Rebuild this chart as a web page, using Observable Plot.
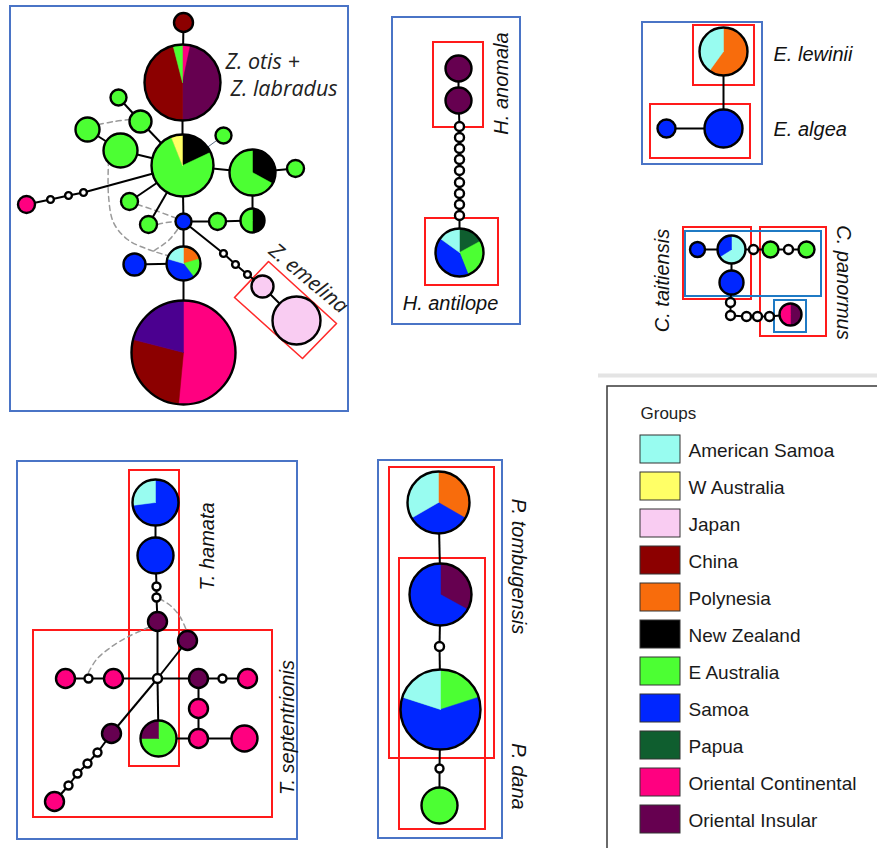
<!DOCTYPE html>
<html>
<head>
<meta charset="utf-8">
<script src="https://cdn.jsdelivr.net/npm/d3@7"></script>
<script src="https://cdn.jsdelivr.net/npm/@observablehq/plot@0.6"></script>
<style>
  html, body { margin: 0; padding: 0; background: #fff; }
  #chart svg { display: block; }
</style>
</head>
<body>
<div id="chart"></div>
<script>
// ---- Populations (legend order) and their colours ----
const groups = ["American Samoa", "W Australia", "Japan", "China", "Polynesia", "New Zealand",
  "E Australia", "Samoa", "Papua", "Oriental Continental", "Oriental Insular"];
const groupColors = ["#98fcf0", "#ffff66", "#f9ccf2", "#8c0000", "#f86c0c", "#000000",
  "#4cff33", "#0026ff", "#0f5e2f", "#ff0080", "#660050"];
// population sampled outside the legend groups
const otherGroup = "Other";
const otherColor = "#4b0090";

// ---- Haplotype networks ----
// Each haplotype: layout centre (x, y), node radius r, and shares of each population
// listed clockwise from 12 o'clock. mix = null marks an unsampled intermediate (mutation step).
const zosteropsNodes = [
  {id: "z1", x: 183, y: 22, r: 9.5, mix: [["China", 1]]},
  {id: "z2", x: 182, y: 82, r: 38, mix: [["Oriental Continental", 0.033], ["Oriental Insular", 0.467], ["China", 0.46], ["E Australia", 0.04]]},
  {id: "z3", x: 182, y: 165, r: 31, mix: [["New Zealand", 0.18], ["E Australia", 0.76], ["W Australia", 0.06]]},
  {id: "z4", x: 252, y: 172, r: 23, mix: [["New Zealand", 0.33], ["E Australia", 0.67]]},
  {id: "z5", x: 295, y: 168, r: 8.5, mix: [["E Australia", 1]]},
  {id: "z6", x: 223, y: 135, r: 8, mix: [["E Australia", 1]]},
  {id: "z7", x: 140, y: 121, r: 11, mix: [["E Australia", 1]]},
  {id: "z8", x: 118, y: 97, r: 8, mix: [["E Australia", 1]]},
  {id: "z9", x: 120, y: 150, r: 17, mix: [["E Australia", 1]]},
  {id: "z10", x: 87, y: 129, r: 12, mix: [["E Australia", 1]]},
  {id: "z11", x: 26, y: 204, r: 8.5, mix: [["Oriental Continental", 1]]},
  {id: "zm1", x: 83, y: 192, r: 3.4, mix: null},
  {id: "zm2", x: 68, y: 195, r: 3.4, mix: null},
  {id: "zm3", x: 50, y: 199, r: 3.4, mix: null},
  {id: "z12", x: 129, y: 201, r: 8.5, mix: [["E Australia", 1]]},
  {id: "z13", x: 148, y: 224, r: 8.5, mix: [["E Australia", 1]]},
  {id: "z14", x: 183, y: 221, r: 8, mix: [["Samoa", 1]]},
  {id: "z15", x: 217, y: 221, r: 8.5, mix: [["E Australia", 1]]},
  {id: "z16", x: 252, y: 220, r: 12, mix: [["New Zealand", 0.5], ["E Australia", 0.5]]},
  {id: "z17", x: 183, y: 263, r: 17, mix: [["Polynesia", 0.205], ["E Australia", 0.19], ["Samoa", 0.4], ["American Samoa", 0.205]]},
  {id: "z18", x: 134, y: 264, r: 11, mix: [["Samoa", 1]]},
  {id: "z19", x: 183, y: 352, r: 52, mix: [["Oriental Continental", 0.515], ["China", 0.275], [otherGroup, 0.21]]},
  {id: "zm4", x: 223, y: 253, r: 3.4, mix: null},
  {id: "zm5", x: 235, y: 264, r: 3.4, mix: null},
  {id: "zm6", x: 247, y: 274, r: 3.4, mix: null},
  {id: "z20", x: 262, y: 286, r: 11, mix: [["Japan", 1]]},
  {id: "z21", x: 296, y: 320, r: 24, mix: [["Japan", 1]]}
];
const zosteropsEdges = [
  ["z1", "z2"], ["z2", "z3"], ["z3", "z4"], ["z4", "z5"], ["z3", "z7"], ["z7", "z8"],
  ["z3", "z9"], ["z9", "z10"], ["z3", "zm1"], ["zm1", "zm2"], ["zm2", "zm3"], ["zm3", "z11"],
  ["z3", "z12"], ["z3", "z13"], ["z3", "z14"], ["z4", "z16"], ["z14", "z15"], ["z15", "z16"],
  ["z14", "z17"], ["z17", "z18"], ["z17", "z19"], ["z14", "zm4"], ["zm4", "zm5"], ["zm5", "zm6"],
  ["zm6", "z20"], ["z20", "z21"]
];
const zosteropsFaintEdges = [["z3", "z6"]];

const heteroNodes = [
  {id: "h1", x: 458, y: 68, r: 13, mix: [["Oriental Insular", 1]]},
  {id: "h2", x: 458, y: 100, r: 13, mix: [["Oriental Insular", 1]]},
  {id: "hm1", x: 459, y: 126, r: 4.5, mix: null},
  {id: "hm2", x: 459, y: 137, r: 4.5, mix: null},
  {id: "hm3", x: 459, y: 148, r: 4.5, mix: null},
  {id: "hm4", x: 459, y: 159, r: 4.5, mix: null},
  {id: "hm5", x: 459, y: 170, r: 4.5, mix: null},
  {id: "hm6", x: 459, y: 182, r: 4.5, mix: null},
  {id: "hm7", x: 459, y: 193, r: 4.5, mix: null},
  {id: "hm8", x: 459, y: 204, r: 4.5, mix: null},
  {id: "hm9", x: 459, y: 215, r: 4.5, mix: null},
  {id: "h3", x: 459, y: 252, r: 24, mix: [["Papua", 0.17], ["E Australia", 0.27], ["Samoa", 0.41], ["American Samoa", 0.15]]}
];
const heteroEdges = [
  ["h1", "h2"], ["h2", "hm1"], ["hm1", "hm2"], ["hm2", "hm3"], ["hm3", "hm4"], ["hm4", "hm5"],
  ["hm5", "hm6"], ["hm6", "hm7"], ["hm7", "hm8"], ["hm8", "hm9"], ["hm9", "h3"]
];

const eclipesNodes = [
  {id: "e1", x: 723, y: 51, r: 24, mix: [["Polynesia", 0.6], ["American Samoa", 0.4]]},
  {id: "e2", x: 723, y: 128, r: 19, mix: [["Samoa", 1]]},
  {id: "e3", x: 666, y: 128, r: 9, mix: [["Samoa", 1]]}
];
const eclipesEdges = [["e1", "e2"], ["e2", "e3"]];

const ctenoNodes = [
  {id: "c1", x: 697, y: 249, r: 7.5, mix: [["Samoa", 1]]},
  {id: "c2", x: 731, y: 249, r: 14, mix: [["American Samoa", 0.66], ["Samoa", 0.34]]},
  {id: "c3", x: 731, y: 282, r: 12, mix: [["Samoa", 1]]},
  {id: "cm1", x: 753, y: 249, r: 4.5, mix: null},
  {id: "c4", x: 770, y: 249, r: 8, mix: [["E Australia", 1]]},
  {id: "cm2", x: 788, y: 249, r: 4.5, mix: null},
  {id: "c5", x: 806, y: 249, r: 8, mix: [["E Australia", 1]]},
  {id: "cm3", x: 730, y: 302, r: 4.5, mix: null},
  {id: "cm4", x: 730, y: 315, r: 4.5, mix: null},
  {id: "cm5", x: 746, y: 316, r: 4.5, mix: null},
  {id: "cm6", x: 757, y: 316, r: 4.5, mix: null},
  {id: "cm7", x: 769, y: 316, r: 4.5, mix: null},
  {id: "c6", x: 790, y: 314, r: 11, mix: [["Oriental Insular", 0.5], ["Oriental Continental", 0.5]]}
];
const ctenoEdges = [
  ["c1", "c2"], ["c2", "c3"], ["c2", "cm1"], ["cm1", "c4"], ["c4", "cm2"], ["cm2", "c5"],
  ["c3", "cm3"], ["cm3", "cm4"], ["cm4", "cm5"], ["cm5", "cm6"], ["cm6", "cm7"], ["cm7", "c6"]
];

const tylosNodes = [
  {id: "t1", x: 155, y: 502, r: 23, mix: [["Samoa", 0.73], ["American Samoa", 0.27]]},
  {id: "t2", x: 155, y: 555, r: 18, mix: [["Samoa", 1]]},
  {id: "tm1", x: 156, y: 586, r: 4, mix: null},
  {id: "tm2", x: 156, y: 597, r: 4, mix: null},
  {id: "t3", x: 157, y: 621, r: 9.5, mix: [["Oriental Insular", 1]]},
  {id: "tm0", x: 157, y: 678, r: 4.5, mix: null},
  {id: "t4", x: 187, y: 640, r: 9.5, mix: [["Oriental Insular", 1]]},
  {id: "t5", x: 65, y: 678, r: 9.5, mix: [["Oriental Continental", 1]]},
  {id: "tm3", x: 88, y: 678, r: 4, mix: null},
  {id: "t6", x: 113, y: 678, r: 9.5, mix: [["Oriental Continental", 1]]},
  {id: "t7", x: 198, y: 678, r: 9.5, mix: [["Oriental Insular", 1]]},
  {id: "tm4", x: 222, y: 678, r: 4, mix: null},
  {id: "t8", x: 247, y: 678, r: 9.5, mix: [["Oriental Continental", 1]]},
  {id: "t9", x: 198, y: 708, r: 9.5, mix: [["Oriental Continental", 1]]},
  {id: "t10", x: 198, y: 738, r: 9.5, mix: [["Oriental Continental", 1]]},
  {id: "t11", x: 244, y: 738, r: 13, mix: [["Oriental Continental", 1]]},
  {id: "t12", x: 158, y: 738, r: 18, mix: [["E Australia", 0.75], ["Oriental Insular", 0.25]]},
  {id: "t13", x: 111, y: 733, r: 9.5, mix: [["Oriental Insular", 1]]},
  {id: "tm5", x: 97, y: 752, r: 4, mix: null},
  {id: "tm6", x: 87, y: 763, r: 4, mix: null},
  {id: "tm7", x: 77, y: 773, r: 4, mix: null},
  {id: "tm8", x: 68, y: 785, r: 4, mix: null},
  {id: "t14", x: 54, y: 801, r: 9.5, mix: [["Oriental Continental", 1]]}
];
const tylosEdges = [
  ["t1", "t2"], ["t2", "tm1"], ["tm1", "tm2"], ["tm2", "t3"], ["t3", "tm0"], ["tm0", "t4"],
  ["tm0", "t6"], ["t6", "tm3"], ["tm3", "t5"], ["tm0", "t7"], ["t7", "tm4"], ["tm4", "t8"],
  ["t7", "t9"], ["t9", "t10"], ["t10", "t11"], ["tm0", "t12"], ["t12", "t10"], ["tm0", "t13"],
  ["t13", "tm5"], ["tm5", "tm6"], ["tm6", "tm7"], ["tm7", "tm8"], ["tm8", "t14"]
];

const platyNodes = [
  {id: "p1", x: 438, y: 502, r: 31, mix: [["Polynesia", 1 / 3], ["Samoa", 1 / 3], ["American Samoa", 1 / 3]]},
  {id: "p2", x: 440, y: 594, r: 31, mix: [["Oriental Insular", 0.33], ["Samoa", 0.67]]},
  {id: "pm1", x: 439, y: 646, r: 4.5, mix: null},
  {id: "p3", x: 440, y: 709, r: 40, mix: [["E Australia", 0.2], ["Samoa", 0.6], ["American Samoa", 0.2]]},
  {id: "pm2", x: 439, y: 768, r: 4, mix: null},
  {id: "p4", x: 439, y: 805, r: 18, mix: [["E Australia", 1]]}
];
const platyEdges = [["p1", "p2"], ["p2", "pm1"], ["pm1", "p3"], ["p3", "pm2"], ["pm2", "p4"]];

// alternative (equally parsimonious) connections, drawn dashed
const alternativeLinks = [
  {id: "a1", pts: [[98, 124], [114, 121], [130, 119]]},
  {id: "a2", pts: [[108, 160], [108, 195], [113, 222], [127, 239], [148, 249], [167, 255]]},
  {id: "a3", pts: [[137, 204], [155, 210], [174, 217]]},
  {id: "a4", pts: [[157, 224], [166, 222], [175, 221]]},
  {id: "a5", pts: [[177, 229], [169, 239], [160, 246], [151, 252]]},
  {id: "a6", pts: [[88, 672], [96, 659], [110, 647], [128, 636], [148, 627]]},
  {id: "a7", pts: [[159, 598], [171, 606], [180, 617], [186, 630]]}
];

// ---- Frames: genus panels, species groupings ----
const genusFrames = [
  {x1: 10, y1: 6, x2: 348, y2: 411},
  {x1: 392, y1: 17, x2: 520, y2: 324},
  {x1: 642, y1: 22, x2: 762, y2: 164},
  {x1: 17, y1: 461, x2: 297, y2: 839},
  {x1: 378, y1: 460, x2: 502, y2: 838}
];
const speciesFrames = [
  {x1: 433, y1: 42, x2: 483, y2: 127},
  {x1: 425, y1: 218, x2: 498, y2: 285},
  {x1: 693, y1: 25, x2: 754, y2: 85},
  {x1: 650, y1: 104, x2: 750, y2: 158},
  {x1: 683, y1: 227, x2: 751, y2: 299},
  {x1: 760, y1: 227, x2: 826, y2: 336},
  {x1: 129, y1: 470, x2: 179, y2: 766},
  {x1: 33, y1: 630, x2: 272, y2: 817},
  {x1: 389, y1: 467, x2: 494, y2: 758},
  {x1: 399, y1: 558, x2: 485, y2: 829}
];
const cladeFrames = [
  {x1: 685, y1: 231, x2: 821, y2: 296},
  {x1: 774, y1: 300, x2: 806, y2: 332}
];
const emelinaFrame = [[268, 261], [336, 323], [302, 358], [234, 297]];

// ---- Species labels ----
const labelsHumanist = [
  {text: "Z. otis +", x: 225, y: 62, rotate: 0},
  {text: "Z. labradus", x: 230, y: 88.5, rotate: 0}
];
const labelEmelina = [{text: "Z. emelina", x: 308, y: 278, rotate: 40}];
const labelsCentered = [
  {text: "H. anomala", x: 501.5, y: 83, rotate: -90},
  {text: "H. antilope", x: 450, y: 303.5, rotate: 0},
  {text: "C. taitiensis", x: 662.5, y: 280, rotate: -90},
  {text: "C. panormus", x: 843, y: 282, rotate: 90},
  {text: "T. hamata", x: 207, y: 546, rotate: -90},
  {text: "T. septentrionis", x: 287, y: 727, rotate: -90},
  {text: "P. tombugensis", x: 518, y: 566, rotate: 90},
  {text: "P. dana", x: 518, y: 776, rotate: 90}
];
const labelsLeft = [
  {text: "E. lewinii", x: 773, y: 54.5},
  {text: "E. algea", x: 773, y: 129.5}
];

// ---- Derived geometry ----
const colorOf = new Map(groups.map((g, i) => [g, groupColors[i]]));
colorOf.set(otherGroup, otherColor);

const allNodes = [...zosteropsNodes, ...heteroNodes, ...eclipesNodes, ...ctenoNodes, ...tylosNodes, ...platyNodes];
const nodeById = new Map(allNodes.map((n) => [n.id, n]));
const toLinks = (edges) => edges.map(([a, b]) => ({a: nodeById.get(a), b: nodeById.get(b)}));
const links = toLinks([...zosteropsEdges, ...heteroEdges, ...eclipesEdges, ...ctenoEdges, ...tylosEdges, ...platyEdges]);
const faintLinks = toLinks(zosteropsFaintEdges);

// pie wedges as closed polygons, angles clockwise from north
function wedges(nodes) {
  const out = [];
  for (const n of nodes) {
    if (!n.mix || n.mix.length < 2) continue;
    const total = d3.sum(n.mix, (m) => m[1]);
    let a0 = 0;
    n.mix.forEach(([g, share], k) => {
      const a1 = a0 + (share / total) * 360;
      const steps = Math.max(2, Math.ceil((a1 - a0) / 2));
      const key = n.id + ":" + k;
      const color = colorOf.get(g);
      out.push({key, color, x: n.x, y: n.y});
      for (let s = 0; s <= steps; ++s) {
        const a = ((a0 + ((a1 - a0) * s) / steps) * Math.PI) / 180;
        out.push({key, color, x: n.x + n.r * Math.sin(a), y: n.y - n.r * Math.cos(a)});
      }
      out.push({key, color, x: n.x, y: n.y});
      a0 = a1;
    });
  }
  return out;
}
const pieSlices = wedges(allNodes);
const baseFill = (n) => (n.mix ? colorOf.get(n.mix[0][0]) : "#ffffff");

const dashedPts = alternativeLinks.flatMap((d) => d.pts.map(([x, y]) => ({id: d.id, x, y})));
const emelinaPts = emelinaFrame.map(([x, y]) => ({x, y}));

const legendTop = 435, legendStep = 37, swatchH = 28;
const sansFont = "'Liberation Sans', Arial, Helvetica, sans-serif";
const humanistFont = "'Open Sans', Lato, sans-serif";

const chart = Plot.plot({
  width: 877,
  height: 848,
  margin: 0,
  x: {domain: [0, 877], range: [0, 877], axis: null},
  y: {domain: [0, 848], range: [0, 848], axis: null},
  r: {type: "identity"},
  color: {type: "identity"},
  marks: [
    // legend separator and frame
    Plot.ruleY([375], {x1: 598, x2: 877, stroke: "#e4e4e4", strokeWidth: 4}),
    Plot.rect([0], {x1: 607, y1: 386, x2: 890, y2: 860, fill: "none", stroke: "#3a3a3a", strokeWidth: 1.5}),
    Plot.text(["Groups"], {x: 640, y: 413, text: (d) => d, textAnchor: "start", fontSize: 17, fontFamily: sansFont, fill: "#222"}),
    Plot.rect(groups, {
      x1: () => 640, x2: () => 680,
      y1: (d, i) => legendTop + i * legendStep, y2: (d, i) => legendTop + i * legendStep + swatchH,
      fill: (d, i) => groupColors[i], stroke: "#333", strokeWidth: 1
    }),
    Plot.text(groups, {
      x: () => 688, y: (d, i) => legendTop + i * legendStep + swatchH / 2 + 1,
      text: (d) => d, textAnchor: "start", fontSize: 19, fontFamily: sansFont, fill: "#1a1a1a"
    }),

    // frames
    Plot.rect(genusFrames, {x1: "x1", y1: "y1", x2: "x2", y2: "y2", fill: "none", stroke: "#4a74c6", strokeWidth: 2}),
    Plot.rect(speciesFrames, {x1: "x1", y1: "y1", x2: "x2", y2: "y2", fill: "none", stroke: "#ff1a1a", strokeWidth: 2}),
    Plot.rect(cladeFrames, {x1: "x1", y1: "y1", x2: "x2", y2: "y2", fill: "none", stroke: "#1f7ac4", strokeWidth: 2}),
    Plot.line(emelinaPts, {x: "x", y: "y", curve: "linear-closed", stroke: "#ff2a2a", strokeWidth: 1.6}),

    // network edges
    Plot.line(dashedPts, {x: "x", y: "y", z: "id", curve: "catmull-rom", stroke: "#9a9a9a", strokeWidth: 1.5, strokeDasharray: "5,4"}),
    Plot.link(faintLinks, {x1: (d) => d.a.x, y1: (d) => d.a.y, x2: (d) => d.b.x, y2: (d) => d.b.y, stroke: "#5a6a80", strokeWidth: 1}),
    Plot.link(links, {x1: (d) => d.a.x, y1: (d) => d.a.y, x2: (d) => d.b.x, y2: (d) => d.b.y, stroke: "#000", strokeWidth: 2}),

    // haplotype nodes: base fill, pie wedges, outline
    Plot.dot(allNodes, {x: "x", y: "y", r: "r", fill: baseFill, stroke: "none", sort: null}),
    Plot.line(pieSlices, {x: "x", y: "y", z: "key", fill: "color", stroke: "color", strokeWidth: 0.5}),
    Plot.dot(allNodes, {x: "x", y: "y", r: "r", fill: "none", stroke: "#000", strokeWidth: 2.4, sort: null}),

    // species labels
    Plot.text(labelsHumanist, {x: "x", y: "y", text: "text", rotate: "rotate", textAnchor: "start", fontSize: 21.5, fontStyle: "italic", fontFamily: humanistFont, fill: "#222"}),
    Plot.text(labelEmelina, {x: "x", y: "y", text: "text", rotate: "rotate", textAnchor: "middle", fontSize: 21, fontStyle: "italic", fontFamily: humanistFont, fill: "#222"}),
    Plot.text(labelsCentered, {x: "x", y: "y", text: "text", rotate: "rotate", textAnchor: "middle", fontSize: 20, fontStyle: "italic", fontFamily: sansFont, fill: "#111"}),
    Plot.text(labelsLeft, {x: "x", y: "y", text: "text", textAnchor: "start", fontSize: 20, fontStyle: "italic", fontFamily: sansFont, fill: "#111"})
  ]
});
document.getElementById("chart").append(chart);
</script>
</body>
</html>
